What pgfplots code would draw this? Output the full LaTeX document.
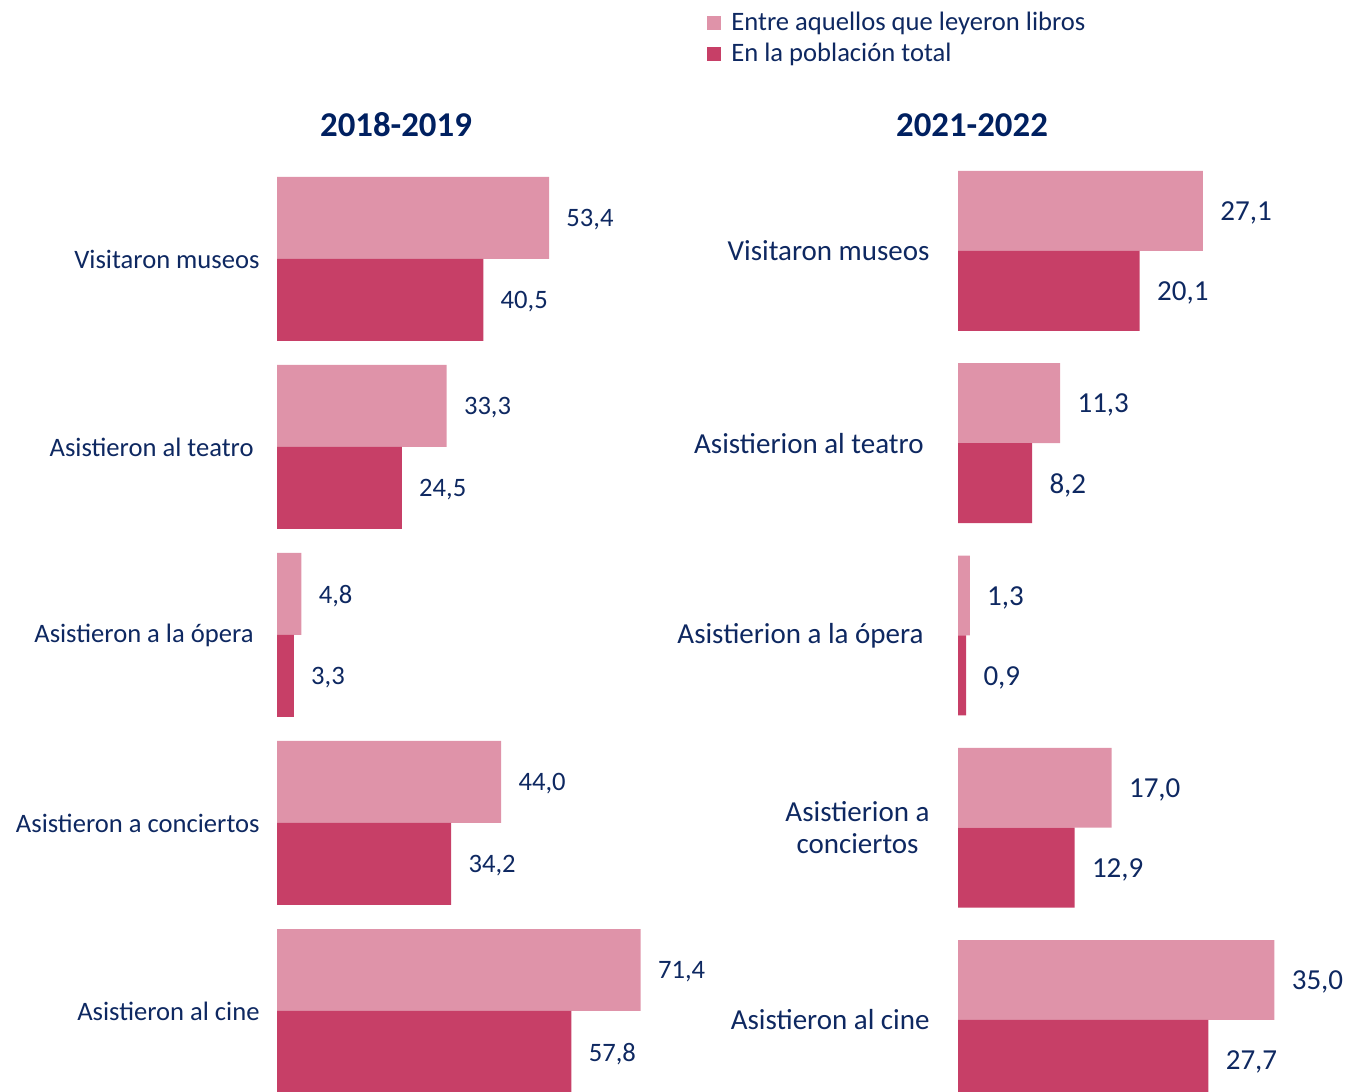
\documentclass[border=0pt]{standalone}
\usepackage{pgfplots}
\pgfplotsset{compat=1.18}
\usepackage{fontspec}
\setmainfont{Carlito}

\definecolor{lecto}{HTML}{DF93A9}
\definecolor{total}{HTML}{C73F67}
\definecolor{navy}{HTML}{0E2861}
\definecolor{titulo}{HTML}{002060}

% y = 4 (museos) ... 0 (cine)
\pgfplotstableread{
cat light dark
4 53.4 40.5
3 33.3 24.5
2 4.8 3.3
1 44.0 34.2
0 71.4 57.8
}\izq
\pgfplotstableread{
cat light dark
4 27.1 20.1
3 11.3 8.2
2 1.3 0.9
1 17.0 12.9
0 35.0 27.7
}\der

\pgfplotsset{
  panel/.style={
    xbar, scale only axis, anchor=south west, clip=false,
    xmin=0,
    axis line style={draw=none}, tick style={draw=none}, major tick length=0pt,
    xtick=\empty, ytick={0,1,2,3,4},
    nodes near coords,
    every node near coord/.append style={anchor=west, inner sep=0pt, xshift=8.5bp, yshift=-1bp, text=navy},
    /pgf/number format/fixed,
    /pgf/number format/fixed zerofill,
    /pgf/number format/precision=1,
    /pgf/number format/use comma,
    /pgf/number format/assume math mode=true,
    title style={anchor=center, text=titulo, font=\fontsize{17.4bp}{20bp}\selectfont\bfseries},
  },
  caja/.style={legend image code/.code={\fill[##1] (0bp,-3.5bp) rectangle (7bp,3.5bp); \path (11bp,0bp);}},
}

\begin{document}
\begin{tikzpicture}
\begin{axis}[panel,
  at={(138.5bp,0bp)}, width=203.76bp, height=457.5bp,
  xmax=80, ymin=-0.431, ymax=4.436, bar width=0.436,
  font=\fontsize{13.3bp}{16bp}\selectfont,
  yticklabels={Asistieron al cine, Asistieron a conciertos, Asistieron a la ópera\kern3bp, Asistieron al teatro\kern3bp, Visitaron museos},
  yticklabel style={text=navy, inner sep=0pt, xshift=-8.5bp},
  title={2018-2019}, title style={at={(axis description cs:0.292,1.0437)}},
  legend style={at={(axis description cs:1.054,1.1853)}, anchor=north west,
    draw=none, fill=none, inner sep=0pt, text=navy, cells={anchor=west},
    nodes={text height=10bp, text depth=3bp, inner sep=1.25bp},
    font=\fontsize{13.3bp}{16bp}\selectfont},
]
\addplot[fill=lecto, draw=none, bar shift=0.218, caja] table[x=light, y=cat] {\izq};
\addplot[fill=total, draw=none, bar shift=-0.218, caja] table[x=dark, y=cat] {\izq};
\legend{Entre aquellos que leyeron libros, En la población total}
\end{axis}

\begin{axis}[panel,
  at={(479bp,0bp)}, width=180.8bp, height=460.5bp,
  xmax=40, ymin=-0.3745, ymax=4.416, bar width=0.416,
  font=\fontsize{14.5bp}{16bp}\selectfont,
  yticklabels={Asistieron al cine, {Asistierion a\\conciertos}, Asistierion a la ópera\kern3bp, Asistierion al teatro\kern3bp, Visitaron museos},
  yticklabel style={text=navy, inner sep=0pt, xshift=-14bp, align=center},
  title={2021-2022}, title style={at={(axis description cs:0.0387,1.0369)}},
]
\addplot[fill=lecto, draw=none, bar shift=0.208] table[x=light, y=cat] {\der};
\addplot[fill=total, draw=none, bar shift=-0.208] table[x=dark, y=cat] {\der};
\end{axis}

\pgfresetboundingbox
\useasboundingbox (0bp,0bp) rectangle (674bp,546bp);
\end{tikzpicture}
\end{document}
